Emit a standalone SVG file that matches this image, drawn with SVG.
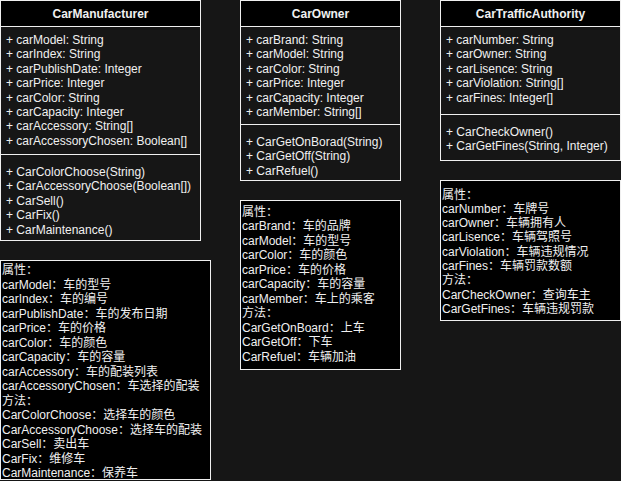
<svg xmlns="http://www.w3.org/2000/svg" width="621" height="481" viewBox="0 0 621 481">
<style>
.bg{fill:#161616}
.hdr{fill:#000000;stroke:#f0f0f0;stroke-width:1}
.body{fill:#161616;stroke:#f0f0f0;stroke-width:1}
.note{fill:#000000;stroke:#f0f0f0;stroke-width:1}
.sep{stroke:#f0f0f0;stroke-width:1;fill:none}
text{font-family:"Liberation Sans","Noto Sans CJK SC",Arial,sans-serif;font-size:12px;fill:#f0f0f0}
.title{font-weight:bold;text-anchor:middle}
</style>
<rect class="bg" x="0" y="0" width="621" height="481"/>

<g id="CarManufacturer">
  <rect class="body" x="0.5" y="0.5" width="200" height="240"/>
  <rect class="hdr" x="0.5" y="0.5" width="200" height="26"/>
  <text class="title" x="100.5" y="18">CarManufacturer</text>
  <text x="6" y="44">+ carModel: String</text>
  <text x="6" y="58.4">+ carIndex: String</text>
  <text x="6" y="72.8">+ carPublishDate: Integer</text>
  <text x="6" y="87.2">+ carPrice: Integer</text>
  <text x="6" y="101.6">+ carColor: String</text>
  <text x="6" y="116">+ carCapacity: Integer</text>
  <text x="6" y="130.4">+ carAccessory: String[]</text>
  <text x="6" y="144.8">+ carAccessoryChosen: Boolean[]</text>
  <line class="sep" x1="0.5" y1="154.5" x2="200.5" y2="154.5"/>
  <text x="6" y="176">+ CarColorChoose(String)</text>
  <text x="6" y="190.4">+ CarAccessoryChoose(Boolean[])</text>
  <text x="6" y="204.8">+ CarSell()</text>
  <text x="6" y="219.2">+ CarFix()</text>
  <text x="6" y="233.6">+ CarMaintenance()</text>
</g>

<g id="CarOwner">
  <rect class="body" x="240.5" y="0.5" width="160" height="180"/>
  <rect class="hdr" x="240.5" y="0.5" width="160" height="26"/>
  <text class="title" x="320.5" y="18">CarOwner</text>
  <text x="246" y="44">+ carBrand: String</text>
  <text x="246" y="58.4">+ carModel: String</text>
  <text x="246" y="72.8">+ carColor: String</text>
  <text x="246" y="87.2">+ carPrice: Integer</text>
  <text x="246" y="101.6">+ carCapacity: Integer</text>
  <text x="246" y="116">+ carMember: String[]</text>
  <line class="sep" x1="240.5" y1="124.5" x2="400.5" y2="124.5"/>
  <text x="246" y="146">+ CarGetOnBorad(String)</text>
  <text x="246" y="160.4">+ CarGetOff(String)</text>
  <text x="246" y="174.8">+ CarRefuel()</text>
</g>

<g id="CarTrafficAuthority">
  <rect class="body" x="440.5" y="0.5" width="180" height="160"/>
  <rect class="hdr" x="440.5" y="0.5" width="180" height="26"/>
  <text class="title" x="530.5" y="18">CarTrafficAuthority</text>
  <text x="446" y="44">+ carNumber: String</text>
  <text x="446" y="58.4">+ carOwner: String</text>
  <text x="446" y="72.8">+ carLisence: String</text>
  <text x="446" y="87.2">+ carViolation: String[]</text>
  <text x="446" y="101.6">+ carFines: Integer[]</text>
  <line class="sep" x1="440.5" y1="114.5" x2="620.5" y2="114.5"/>
  <text x="446" y="136">+ CarCheckOwner()</text>
  <text x="446" y="150.4">+ CarGetFines(String, Integer)</text>
</g>

<g id="NoteManufacturer">
  <rect class="note" x="0.5" y="260.5" width="210" height="219"/>
  <text x="2" y="274">属性：</text>
  <text x="2" y="288.5">carModel：车的型号</text>
  <text x="2" y="303">carIndex：车的编号</text>
  <text x="2" y="317.5">carPublishDate：车的发布日期</text>
  <text x="2" y="332">carPrice：车的价格</text>
  <text x="2" y="346.5">carColor：车的颜色</text>
  <text x="2" y="361">carCapacity：车的容量</text>
  <text x="2" y="375.5">carAccessory：车的配装列表</text>
  <text x="2" y="390">carAccessoryChosen：车选择的配装</text>
  <text x="2" y="404.5">方法：</text>
  <text x="2" y="419">CarColorChoose：选择车的颜色</text>
  <text x="2" y="433.5">CarAccessoryChoose：选择车的配装</text>
  <text x="2" y="448">CarSell：卖出车</text>
  <text x="2" y="462.5">CarFix：维修车</text>
  <text x="2" y="477">CarMaintenance：保养车</text>
</g>

<g id="NoteOwner">
  <rect class="note" x="240.5" y="200.5" width="160" height="169"/>
  <text x="242" y="215.5">属性：</text>
  <text x="242" y="230">carBrand：车的品牌</text>
  <text x="242" y="244.5">carModel：车的型号</text>
  <text x="242" y="259">carColor：车的颜色</text>
  <text x="242" y="273.5">carPrice：车的价格</text>
  <text x="242" y="288">carCapacity：车的容量</text>
  <text x="242" y="302.5">carMember：车上的乘客</text>
  <text x="242" y="317">方法：</text>
  <text x="242" y="331.5">CarGetOnBoard：上车</text>
  <text x="242" y="346">CarGetOff：下车</text>
  <text x="242" y="360.5">CarRefuel：车辆加油</text>
</g>

<g id="NoteTrafficAuthority">
  <rect class="note" x="440.5" y="180.5" width="180" height="140"/>
  <text x="442" y="198.5">属性：</text>
  <text x="442" y="212.8">carNumber：车牌号</text>
  <text x="442" y="227.1">carOwner：车辆拥有人</text>
  <text x="442" y="241.4">carLisence：车辆驾照号</text>
  <text x="442" y="255.7">carViolation：车辆违规情况</text>
  <text x="442" y="270">carFines：车辆罚款数额</text>
  <text x="442" y="284.3">方法：</text>
  <text x="442" y="298.6">CarCheckOwner：查询车主</text>
  <text x="442" y="312.9">CarGetFines：车辆违规罚款</text>
</g>

<g id="connectors"></g>
</svg>
